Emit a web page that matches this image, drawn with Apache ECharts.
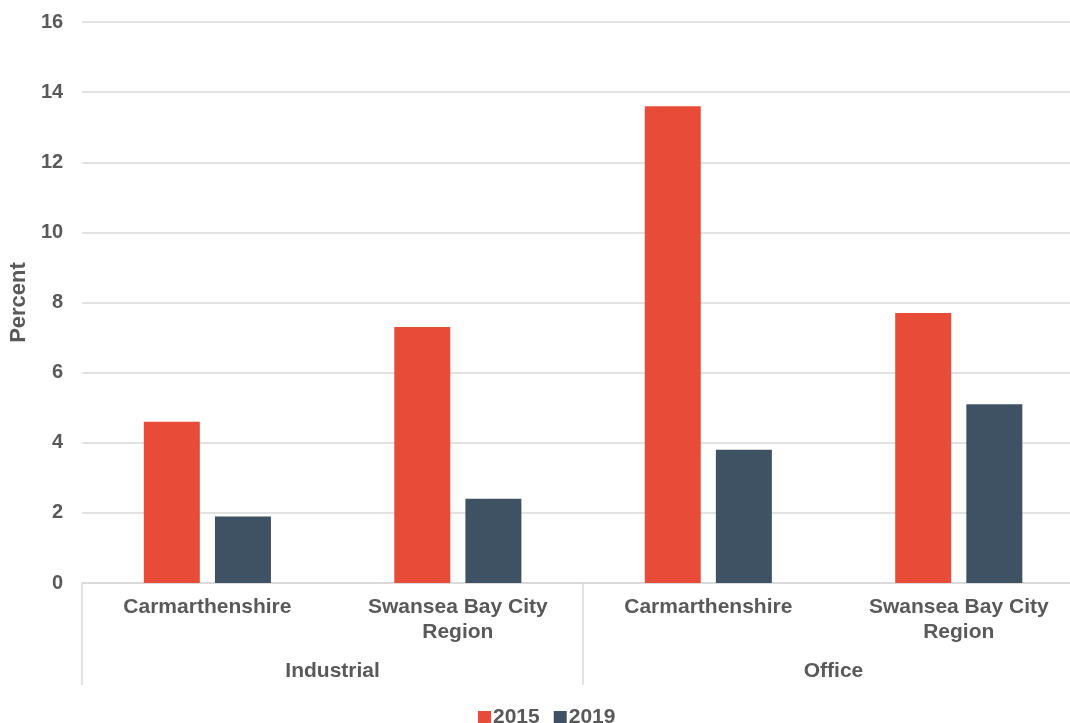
<!DOCTYPE html>
<html><head><meta charset="utf-8">
<script src="https://cdn.jsdelivr.net/npm/echarts@6/dist/echarts.min.js"></script>
<style>html,body{margin:0;padding:0;background:#fff;overflow:hidden;width:1070px;height:723px}#c{width:1086px;height:723px}</style>
</head><body><div id="c"></div>
<script>
const categories = ['Carmarthenshire', 'Swansea Bay City\nRegion', 'Carmarthenshire', 'Swansea Bay City\nRegion'];
const groups = ['Industrial', 'Office'];
const values2015 = [4.6, 7.3, 13.6, 7.7];
const values2019 = [1.9, 2.4, 3.8, 5.1];
const yTicks = [0, 2, 4, 6, 8, 10, 12, 14, 16];

const FONT = 'Liberation Sans, Arial, sans-serif';
const TXT = '#595959';
const chart = echarts.init(document.getElementById('c'));
chart.setOption({
  animation: false,
  textStyle: { fontFamily: FONT },
  grid: { left: 82, right: 2, top: 22, bottom: 140, containLabel: false },
  legend: {
    top: 702, left: 473, itemWidth: 13, itemHeight: 13, itemGap: 14,
    icon: 'rect',
    textStyle: { fontSize: 21, fontWeight: 'bold', color: TXT, fontFamily: FONT, padding: [0, 0, 0, -3] },
    data: ['2015', '2019']
  },
  xAxis: [{
    type: 'category', data: categories, position: 'bottom',
    axisLine: { lineStyle: { color: '#d9d9d9', width: 1.5 } },
    axisTick: { show: false },
    axisLabel: { fontSize: 21, fontWeight: 'bold', color: TXT, lineHeight: 25, margin: 12, interval: 0 }
  }, {
    type: 'category', data: groups, position: 'bottom', gridIndex: 0,
    axisLine: { show: false },
    axisTick: { show: true, length: 102, inside: false, lineStyle: { color: '#d9d9d9', width: 1.5 } },
    axisLabel: { fontSize: 21, fontWeight: 'bold', color: TXT, margin: 78, interval: 0 }
  }],
  yAxis: {
    type: 'value', min: 0, max: 16, interval: 2,
    name: 'Percent', nameLocation: 'middle', nameGap: 50, nameRotate: 90,
    nameTextStyle: { fontSize: 22, fontWeight: 'bold', color: TXT },
    axisLine: { show: false }, axisTick: { show: false },
    axisLabel: { fontSize: 20, fontWeight: 'bold', color: TXT, margin: 19,
      formatter: v => yTicks.includes(v) ? String(v) : '' },
    splitLine: { lineStyle: { color: '#d9d9d9', width: 1.5 } }
  },
  series: [
    { name: '2015', type: 'bar', data: values2015, barWidth: 56, barGap: '27%', itemStyle: { color: '#E84B37' } },
    { name: '2019', type: 'bar', data: values2019, barWidth: 56, barGap: '27%', itemStyle: { color: '#3F5263' } }
  ]
});
</script></body></html>
